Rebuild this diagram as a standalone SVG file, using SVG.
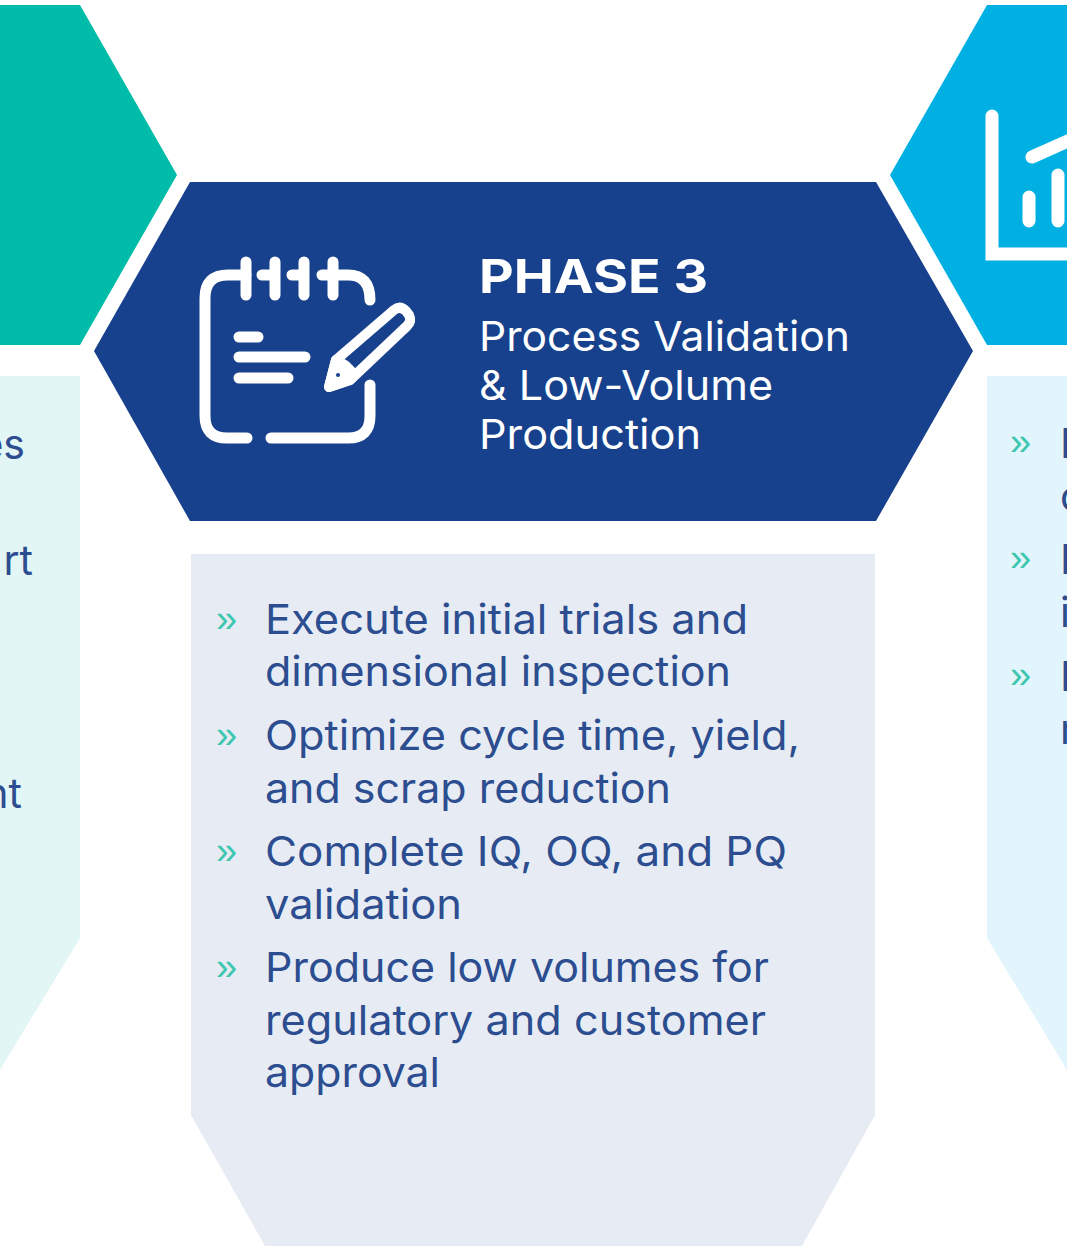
<svg xmlns="http://www.w3.org/2000/svg" width="1067" height="1252" viewBox="0 0 1067 1252">
<style>
text{font-family:"Inter","Liberation Sans",sans-serif}
.b{font-size:41px;fill:#2c4d8f;font-weight:400}
.c{font-size:38px;fill:#3cc7b0;font-family:"Liberation Sans",sans-serif}
.h{font-size:41px;fill:#fff;font-weight:400}
.i{fill:none;stroke:#fff;stroke-width:11;stroke-linecap:round;stroke-linejoin:round}
</style>
<rect width="1067" height="1252" fill="#fff"/>
<g id="phase2">
<polygon points="0,5 80,5 177,175 80,345 0,345" fill="#00bca8"/>
<polygon points="0,376 80,376 80,938 0,1070" fill="#e3f6f6"/>
<text class="b" x="25" y="459" text-anchor="end">es</text>
<text class="b" x="33" y="575" text-anchor="end">rt</text>
<text class="b" x="22" y="808" text-anchor="end">nt</text>
</g>
<g id="phase3">
<polygon points="190,182 876,182 973,351 876,521 190,521 94,351" fill="#17418c"/>
<g id="icon-notepad" class="i">
<path d="M246,275H228Q205,275 205,298V416Q205,438 227,438H247"/>
<path d="M271,438H348Q370,438 370,416V385"/>
<path d="M322,275H348Q370,275 370,300"/>
<path d="M246,262V295M275,262V295M304,262V295M333,262V295M262,275H275M292,275H304"/>
<path d="M239,337H258M239,357H305M239,378H288"/>
<g style="stroke-width:10">
<path d="M329,387L336,360L394,310Q400,305 406,311L409,315Q412,321 407,326L350,380Z"/>
<path d="M329,387L336,360L345,365L352,372L350,380Z" fill="#fff"/>
</g>
<circle cx="338" cy="375" r="2" fill="#17418c" stroke="none"/>
</g>
<text x="479" y="293" style="font-size:47px;font-weight:700;fill:#fff" textLength="229" lengthAdjust="spacingAndGlyphs">PHASE 3</text>
<text class="h" x="479" y="351" textLength="371" lengthAdjust="spacingAndGlyphs">Process Validation</text>
<text class="h" x="479" y="400" textLength="294" lengthAdjust="spacingAndGlyphs">&amp; Low-Volume</text>
<text class="h" x="479" y="449" textLength="222" lengthAdjust="spacingAndGlyphs">Production</text>
<polygon points="191,554 875,554 875,1115 802,1246 265,1246 191,1115" fill="#e7ecf4"/>
<text class="c" x="216" y="632">»</text>
<text class="b" x="265" y="634" textLength="483" lengthAdjust="spacingAndGlyphs">Execute initial trials and</text>
<text class="b" x="265" y="686" textLength="466" lengthAdjust="spacingAndGlyphs">dimensional inspection</text>
<text class="c" x="216" y="748">»</text>
<text class="b" x="265" y="750" textLength="535" lengthAdjust="spacingAndGlyphs">Optimize cycle time, yield,</text>
<text class="b" x="265" y="803" textLength="406" lengthAdjust="spacingAndGlyphs">and scrap reduction</text>
<text class="c" x="216" y="864">»</text>
<text class="b" x="265" y="866" textLength="522" lengthAdjust="spacingAndGlyphs">Complete IQ, OQ, and PQ</text>
<text class="b" x="265" y="919" textLength="197" lengthAdjust="spacingAndGlyphs">validation</text>
<text class="c" x="216" y="980">»</text>
<text class="b" x="265" y="982" textLength="504" lengthAdjust="spacingAndGlyphs">Produce low volumes for</text>
<text class="b" x="265" y="1035" textLength="501" lengthAdjust="spacingAndGlyphs">regulatory and customer</text>
<text class="b" x="265" y="1087" textLength="175" lengthAdjust="spacingAndGlyphs">approval</text>
</g>
<g id="phase4">
<polygon points="987,5 1067,5 1067,345 987,345 890,175" fill="#00b0e2"/>
<g class="i" style="stroke-width:13">
<path d="M992,116V254H1070" style="stroke-linejoin:miter"/>
<path d="M1032,157L1070,140"/>
<path d="M1029,197V221M1058,175V221"/>
</g>
<polygon points="987,376 1067,376 1067,1070 987,938" fill="#e3f5fc"/>
<text class="c" x="1010" y="455">»</text>
<text class="b" x="1060" y="458">E</text>
<text class="b" x="1060" y="511">c</text>
<text class="c" x="1010" y="571">»</text>
<text class="b" x="1060" y="574">I</text>
<text class="b" x="1060" y="627">i</text>
<text class="c" x="1010" y="688">»</text>
<text class="b" x="1060" y="691">I</text>
<text class="b" x="1060" y="744">r</text>
</g>
<g id="connectors"/>
</svg>
